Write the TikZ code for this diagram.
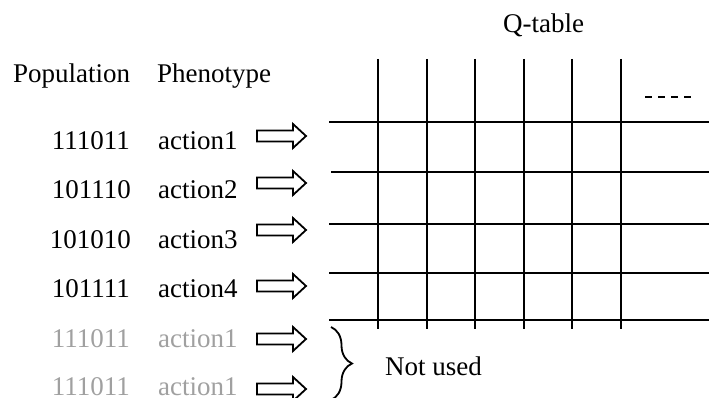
\documentclass[tikz,border=0pt]{standalone}
\usepackage{fontspec}
\setmainfont{Liberation Serif}
\usetikzlibrary{decorations.pathreplacing}
\definecolor{faded}{RGB}{160,160,160}
\tikzset{
  lbl/.style={anchor=base west, inner sep=0pt, font=\fontsize{27}{31}\selectfont},
  num/.style={anchor=base east, inner sep=0pt, font=\fontsize{27}{31}\selectfont},
  grid/.style={line width=2pt},
  blockarrow/.style={draw, line width=1.8pt, fill=white, line join=miter},
}
\newcommand{\blockarr}[1]{%
  \draw[blockarrow] (257,#1-5.5) -- (293,#1-5.5) -- (293,#1-12) -- (306,#1) -- (293,#1+12) -- (293,#1+5.5) -- (257,#1+5.5) -- cycle;}
\begin{document}
\begin{tikzpicture}[x=1pt,y=-1pt]
\useasboundingbox (0,0) rectangle (709,398);
% headings
\node[lbl] (pop) at (13,83) {Population};
\node[lbl] (phen) at (157,83) {Phenotype};
\node[lbl] (qt) at (503,33) {Q-table};
% rows
\node[num] (n1) at (130,150) {111011};
\node[lbl] (a1) at (158,150) {action1};
\node[num] (n2) at (131,199) {101110};
\node[lbl] (a2) at (158,199) {action2};
\node[num] (n3) at (131,248) {101010};
\node[lbl] (a3) at (158,248) {action3};
\node[num] (n4) at (130,297) {101111};
\node[lbl] (a4) at (158,297) {action4};
\node[num, text=faded] (n5) at (130,347) {111011};
\node[lbl, text=faded] (a5) at (158,347) {action1};
\node[num, text=faded] (n6) at (130,395) {111011};
\node[lbl, text=faded] (a6) at (158,395) {action1};
% arrows
\blockarr{136}
\blockarr{183}
\blockarr{230}
\blockarr{286}
\blockarr{339}
\blockarr{389}
% grid
\foreach \yy/\xs in {122/329, 172/331, 224/329, 273/329, 320/329}
  \draw[grid] (\xs,\yy) -- (712,\yy);
\foreach \xx in {378,427,475,524,572,621}
  \draw[grid] (\xx,59) -- (\xx,329);
\draw[line width=1.8pt, dash pattern=on 7pt off 6pt] (645,97) -- (697,97);
% brace
\draw[line width=1.8pt, decorate, decoration={brace, amplitude=21pt}] (331,327) -- (331,400);
\node[lbl] (nu) at (385,375) {Not used};
\end{tikzpicture}
\end{document}
